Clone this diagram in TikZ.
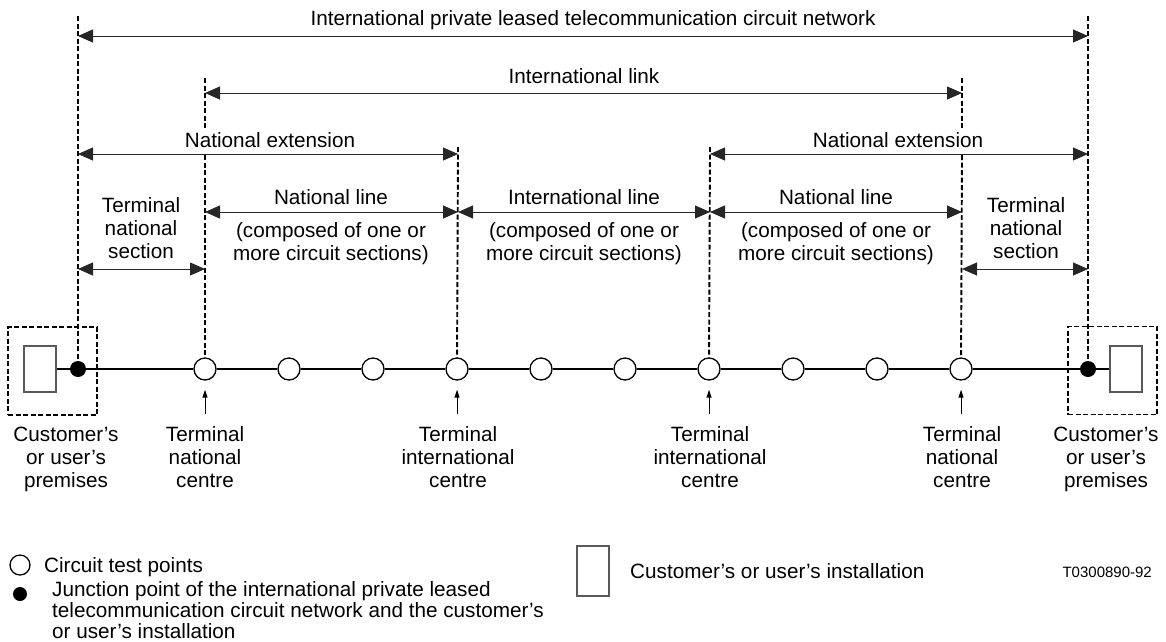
\documentclass[tikz,border=0pt]{standalone}
\usepackage{fontspec}
\setmainfont{Liberation Sans}
\usetikzlibrary{arrows.meta}
% centred stack of lines whose baseline is that of the first line
\newcommand{\stk}[1]{\begin{tabular}[t]{@{}c@{}}#1\end{tabular}}
\newcommand{\lstk}[1]{\begin{tabular}[t]{@{}l@{}}#1\end{tabular}}
\begin{document}
\begin{tikzpicture}[x=1pt,y=-1pt,
  every node/.style={font=\fontsize{20.7}{23}\selectfont},
  lbl/.style={anchor=base, inner sep=0pt},
  span/.style={draw=black!85, line width=1pt,
    {Triangle[length=15pt,width=13pt]}-{Triangle[length=15pt,width=13pt]}},
  guide/.style={draw, line width=1.9pt, dash pattern=on 5pt off 2.5pt},
  premises/.style={draw, line width=1.9pt, dash pattern=on 5pt off 2.5pt,
    minimum width=89pt, minimum height=88pt, inner sep=0pt},
  wire/.style={draw, line width=2pt},
  testpt/.style={circle, draw, line width=1.3pt, fill=white, minimum size=22pt, inner sep=0pt},
  junction/.style={circle, fill=black, minimum size=16pt, inner sep=0pt},
  install/.style={draw=black!65, line width=1.6pt, fill=white,
    minimum width=32pt, minimum height=46pt, inner sep=0pt},
  pointer/.style={draw, line width=1pt, -{Triangle[length=8pt,width=5pt]}},
]
\useasboundingbox (0,0) rectangle (1166,641);

% ---- premises and installations
\node[premises] (pL) at (52.5,371) {};
\node[premises] (pR) at (1112.5,370.5) {};
\node[install] (iL) at (40,369) {};
\node[install] (iR) at (1126,369) {};

% ---- junction points and circuit test points
\node[junction] (jL) at (78,369) {};
\node[junction] (jR) at (1088,369) {};
\foreach \i in {1,...,10} {
  \node[testpt] (c\i) at ({205+84*(\i-1)},369) {};
}

% ---- the circuit
\draw[wire] (iL) -- (jL) -- (c1) -- (c2) -- (c3) -- (c4) -- (c5) -- (c6)
  -- (c7) -- (c8) -- (c9) -- (c10) -- (jR) -- (iR);

% ---- dashed reference lines
\coordinate (gA) at (78,16);
\coordinate (gF) at (1088,16);
\coordinate (gB1) at (205,78);  \coordinate (gB2) at (205,128); \coordinate (gB3) at (205,155);
\coordinate (gE1) at (962,78);  \coordinate (gE2) at (962,128); \coordinate (gE3) at (962,155);
\coordinate (gC) at (458,147);
\coordinate (gD) at (710,147);
\draw[guide] (gA) -- (jL);
\draw[guide] (gF) -- (jR);
\draw[guide] (gB1) -- (gB2);
\draw[guide] (gB3) -- (c1);
\draw[guide] (gE1) -- (gE2);
\draw[guide] (gE3) -- (c10);
\draw[guide] (gC) -- (c4);
\draw[guide] (gD) -- (c7);

% ---- span arrows
\coordinate (n1) at (78,36);   \coordinate (n2) at (1088,36);
\coordinate (l1) at (205,93);  \coordinate (l2) at (962,93);
\coordinate (e1) at (78,154);  \coordinate (e2) at (458,154);
\coordinate (e3) at (710,154); \coordinate (e4) at (1088,154);
\coordinate (s1) at (205,212); \coordinate (s2) at (458,212);
\coordinate (s3) at (710,212); \coordinate (s4) at (962,212);
\coordinate (t1) at (78,269);  \coordinate (t2) at (205,269);
\coordinate (t3) at (962,269); \coordinate (t4) at (1088,269);
\draw[span] (n1) -- (n2);
\draw[span] (l1) -- (l2);
\draw[span] (e1) -- (e2);
\draw[span] (e3) -- (e4);
\draw[span] (s1) -- (s2);
\draw[span] (s2) -- (s3);
\draw[span] (s3) -- (s4);
\draw[span] (t1) -- (t2);
\draw[span] (t3) -- (t4);

% ---- span labels
\node[lbl] (tNet) at (593,25) {International private leased telecommunication circuit network};
\node[lbl] (tLink) at (584,83) {International link};
\node[lbl] (tExtL) at (270,147) {National extension};
\node[lbl] (tExtR) at (898,147) {National extension};
\node[lbl] (tNL1) at (331,204) {National line};
\node[lbl] (tIL) at (584,204) {International line};
\node[lbl] (tNL2) at (836,204) {National line};
\node[lbl] (cNL1) at (331,237) {\stk{(composed of one or\\more circuit sections)}};
\node[lbl] (cIL) at (584,237) {\stk{(composed of one or\\more circuit sections)}};
\node[lbl] (cNL2) at (836,237) {\stk{(composed of one or\\more circuit sections)}};
\node[lbl] (tTL) at (141,212) {\stk{Terminal\\national\\section}};
\node[lbl] (tTR) at (1026,212) {\stk{Terminal\\national\\section}};

% ---- pointers to the centres
\foreach \i in {1,4,7,10} {
  \draw[pointer] ([yshift=-33pt]c\i.south) -- ([yshift=-9pt]c\i.south);
}

% ---- labels below the circuit
\node[lbl] (bL) at (66,441) {\stk{Customer’s\\or user’s\\premises}};
\node[lbl] (b1) at (205,441) {\stk{Terminal\\national\\centre}};
\node[lbl] (b4) at (458,441) {\stk{Terminal\\international\\centre}};
\node[lbl] (b7) at (710,441) {\stk{Terminal\\international\\centre}};
\node[lbl] (b10) at (962,441) {\stk{Terminal\\national\\centre}};
\node[lbl] (bR) at (1106,441) {\stk{Customer’s\\or user’s\\premises}};

% ---- legend
\node[testpt, minimum size=20pt] (legT) at (20,565) {};
\node[lbl, anchor=base west] (legTt) at (44,572) {Circuit test points};
\node[junction, minimum size=14pt] (legJ) at (20,594) {};
\node[lbl, anchor=base west] (legJt) at (52,596)
  {\fontsize{20.7}{20.5}\selectfont\lstk{Junction point of the international private leased\\telecommunication circuit network and the customer’s\\or user’s installation}};
\node[install, minimum height=50pt] (legI) at (593,571) {};
\node[lbl, anchor=base west] (legIt) at (630,578) {Customer’s or user’s installation};
\node[lbl, anchor=base east, font=\fontsize{15}{18}\selectfont] (code) at (1152,577) {T0300890-92};
\end{tikzpicture}
\end{document}
